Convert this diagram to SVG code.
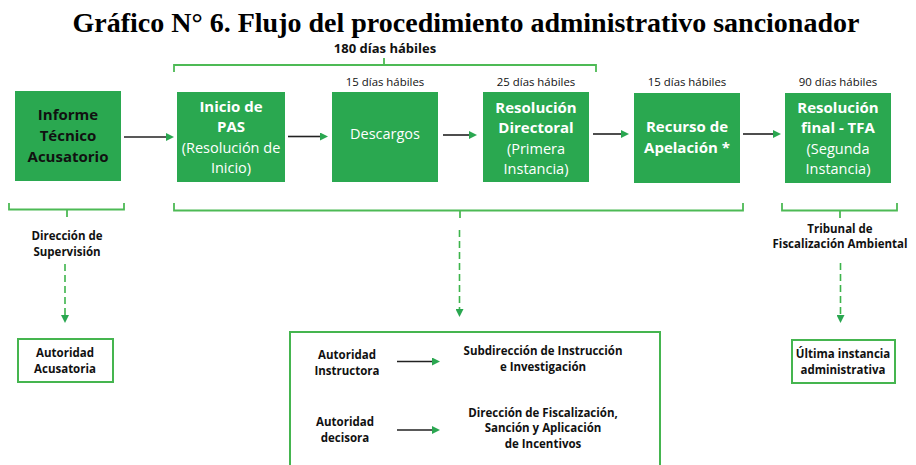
<svg xmlns="http://www.w3.org/2000/svg" width="916" height="465" viewBox="0 0 916 465">
<defs>
<style>
.box{fill:#2aa850;}
.wb{font-family:"Open Sans","DejaVu Sans",sans-serif;font-weight:bold;font-size:15px;fill:#ffffff;text-anchor:middle;}
.wr{font-family:"Open Sans","DejaVu Sans",sans-serif;font-size:14.5px;fill:#ffffff;text-anchor:middle;}
.kb{font-family:"Open Sans","DejaVu Sans",sans-serif;font-weight:bold;font-size:15px;fill:#111111;text-anchor:middle;}
.lab{font-family:"Open Sans","DejaVu Sans",sans-serif;font-weight:bold;font-size:11.5px;fill:#111111;text-anchor:middle;}
.days{font-family:"Open Sans","DejaVu Sans",sans-serif;font-size:11.4px;fill:#111111;text-anchor:middle;}
.br{fill:none;stroke:#4dba55;stroke-width:1.8;}
.ob{fill:#ffffff;stroke:#45b54f;stroke-width:2;}
.arr{stroke:#222222;stroke-width:1.6;fill:none;marker-end:url(#gh);}
.dash{stroke:#3cb44b;stroke-width:1.6;fill:none;stroke-dasharray:7 4;marker-end:url(#dh);}
</style>
<marker id="gh" viewBox="0 0 8 8" refX="0" refY="4" markerWidth="8" markerHeight="8" markerUnits="userSpaceOnUse" orient="auto">
<path d="M0,0 L8,4 L0,8 Z" fill="#2aa750"/>
</marker>
<marker id="dh" viewBox="0 0 8 8" refX="0" refY="4" markerWidth="8" markerHeight="8" markerUnits="userSpaceOnUse" orient="auto">
<path d="M0,0 L8,4 L0,8 Z" fill="#2aa750"/>
</marker>
</defs>
<rect width="916" height="465" fill="#ffffff"/>
<text x="466" y="31.5" font-family="'Liberation Serif','Times New Roman',serif" font-weight="bold" font-size="28" text-anchor="middle" fill="#000000">Gráfico N° 6. Flujo del procedimiento administrativo sancionador</text>

<text x="385" y="53" class="lab" style="font-size:13px">180 días hábiles</text>
<path class="br" d="M174,72 V65 H596 V72 M384,65 V58"/>

<text x="385" y="86" class="days">15 días hábiles</text>
<text x="536" y="86" class="days">25 días hábiles</text>
<text x="687" y="86" class="days">15 días hábiles</text>
<text x="838" y="86" class="days">90 días hábiles</text>

<g id="n-informe">
<rect class="box" x="15" y="91" width="106" height="90"/>
<text class="kb" x="68" y="120">Informe</text>
<text class="kb" x="68" y="141">Técnico</text>
<text class="kb" x="68" y="162">Acusatorio</text>
</g>
<g id="n-inicio">
<rect class="box" x="177" y="92" width="108" height="90"/>
<text class="wb" x="231" y="112">Inicio de</text>
<text class="wb" x="231" y="132">PAS</text>
<text class="wr" x="231" y="153">(Resolución de</text>
<text class="wr" x="231" y="173">Inicio)</text>
</g>
<g id="n-descargos">
<rect class="box" x="332" y="92" width="106" height="90"/>
<text class="wr" x="385" y="139">Descargos</text>
</g>
<g id="n-resdir">
<rect class="box" x="483" y="92" width="106" height="90"/>
<text class="wb" x="536" y="113">Resolución</text>
<text class="wb" x="536" y="133">Directoral</text>
<text class="wr" x="536" y="153.5">(Primera</text>
<text class="wr" x="536" y="173.5">Instancia)</text>
</g>
<g id="n-recurso">
<rect class="box" x="634" y="93" width="106" height="90"/>
<text class="wb" x="687" y="132">Recurso de</text>
<text class="wb" x="687" y="152.5">Apelación *</text>
</g>
<g id="n-resfinal">
<rect class="box" x="785" y="93" width="106" height="90"/>
<text class="wb" x="838" y="113">Resolución</text>
<text class="wb" x="838" y="133">final - TFA</text>
<text class="wr" x="838" y="154">(Segunda</text>
<text class="wr" x="838" y="174">Instancia)</text>
</g>

<g id="brackets">
<path class="br" d="M9,203 V209.5 H124 V203 M67,209.5 V217"/>
<path class="br" d="M174,203 V210.5 H743 V203 M460,210.5 V218"/>
<path class="br" d="M782,203 V210.5 H897 V203 M840,210.5 V218"/>
</g>

<g id="n-dirsup">
<text class="lab" x="67" y="240">Dirección de</text>
<text class="lab" x="67" y="255.5">Supervisión</text>
</g>
<g id="n-tfa">
<text class="lab" x="840" y="233">Tribunal de</text>
<text class="lab" x="840" y="247.5">Fiscalización Ambiental</text>
</g>

<g id="n-acusatoria">
<rect class="ob" x="18" y="339" width="95" height="43"/>
<text class="lab" x="65" y="357">Autoridad</text>
<text class="lab" x="65" y="373">Acusatoria</text>
</g>
<g id="n-ultima">
<rect class="ob" x="792" y="340" width="103" height="43"/>
<text class="lab" x="843" y="358">Última instancia</text>
<text class="lab" x="843" y="374">administrativa</text>
</g>

<g id="n-autoridades">
<rect class="ob" x="290" y="332" width="370" height="150"/>
<text class="lab" x="347" y="359">Autoridad</text>
<text class="lab" x="347" y="375">Instructora</text>
<text class="lab" x="543" y="355">Subdirección de Instrucción</text>
<text class="lab" x="543" y="370.5">e Investigación</text>
<text class="lab" x="345" y="426">Autoridad</text>
<text class="lab" x="345" y="442">decisora</text>
<text class="lab" x="543" y="417">Dirección de Fiscalización,</text>
<text class="lab" x="543" y="432">Sanción y Aplicación</text>
<text class="lab" x="543" y="448">de Incentivos</text>
</g>

<g id="connectors">
<line class="arr" x1="124" y1="137" x2="166" y2="137"/>
<line class="arr" x1="288" y1="136.5" x2="320" y2="136.5"/>
<line class="arr" x1="443" y1="135" x2="469" y2="135"/>
<line class="arr" x1="593" y1="134" x2="621" y2="134"/>
<line class="arr" x1="743" y1="134" x2="773" y2="134"/>
<line class="arr" x1="397" y1="361.5" x2="432" y2="361.5"/>
<line class="arr" x1="397" y1="430" x2="432" y2="430"/>
<line class="dash" x1="65" y1="264" x2="65" y2="315"/>
<line class="dash" x1="459.5" y1="230" x2="459.5" y2="309"/>
<line class="dash" x1="840.5" y1="263" x2="840.5" y2="315"/>
</g>
</svg>
